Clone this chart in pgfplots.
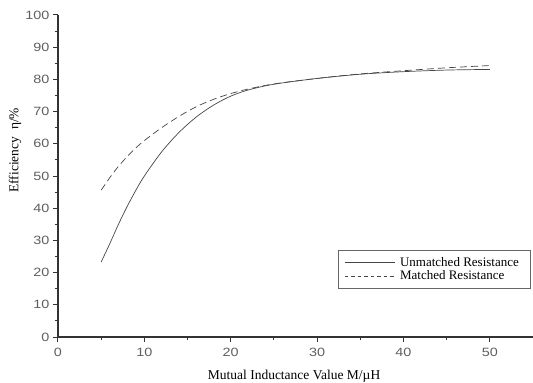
\documentclass[border=0pt]{standalone}
\usepackage{fontspec}
\setmainfont{Liberation Serif}
\newfontfamily\tickfont[FakeStretch=1.2]{Liberation Sans}
\usepackage{pgfplots}
\pgfplotsset{compat=1.18}
\definecolor{tickgray}{RGB}{95,95,95}
\definecolor{curvegray}{RGB}{70,70,70}
\begin{document}
\begin{tikzpicture}
\useasboundingbox (-58pt,-46pt) rectangle (475pt,337pt);
\begin{axis}[
  scale only axis,
  width=475pt, height=322pt,
  xmin=0, xmax=55, ymin=0, ymax=100,
  axis x line=bottom, axis y line=left,
  axis line style={-, line width=1.3pt, color=black!80},
  xtick={0,10,20,30,40,50}, ytick={0,10,...,100},
  minor x tick num=1, minor y tick num=1,
  tick align=outside,
  major tick length=5pt, minor tick length=3pt,
  tick style={line width=1pt, color=black!80},
  /pgf/number format/assume math mode=true,
  tick label style={font=\tickfont\fontsize{12}{14}\selectfont, text=tickgray},
  xticklabel style={yshift=-3pt},
  xlabel={Mutual Inductance Value M/\textmu H},
  ylabel={Efficiency\ \ η/\%},
  xlabel style={at={(axis description cs:0.497,-0.121)}, anchor=center, font=\fontsize{13.5}{15}\selectfont},
  ylabel style={at={(axis description cs:-0.0905,0.58)}, anchor=center, font=\fontsize{13.5}{15}\selectfont},
  legend style={at={(axis description cs:0.994,0.27)}, anchor=north east,
    draw=black!60, line width=0.6pt, font=\fontsize{13}{14}\selectfont,
    row sep=-1pt, inner xsep=6pt, inner ysep=5pt,
    nodes={inner xsep=5pt}},
  legend cell align=left,
  legend image code/.code={\draw[#1] (0pt,0pt) -- (50pt,0pt);},
]
\addlegendimage{curvegray, line width=0.7pt}
\addlegendentry{Unmatched Resistance}
\addlegendimage{curvegray, line width=0.7pt, dash pattern=on 3.5pt off 3pt}
\addlegendentry{Matched Resistance}
\addplot[curvegray, line width=0.7pt, smooth, forget plot] coordinates {
(5,23.3) (6,29) (7,35) (8,40.5) (9,45.5) (10,50) (12,57.5) (14,63.5) (16,68.3) (18,72) (20,74.8) (22,76.7) (25,78.5) (30,80.3) (35,81.6) (40,82.4) (45,82.9) (50,83.1)
};
\addplot[curvegray, line width=0.7pt, smooth, dash pattern=on 7pt off 4pt, forget plot] coordinates {
(5,45.6) (6,49.5) (7,53) (8,56) (9,58.7) (10,61) (12,65) (14,68.5) (16,71.5) (18,73.8) (20,75.6) (22,77) (25,78.6) (30,80.3) (35,81.7) (40,82.7) (45,83.6) (50,84.3)
};
\end{axis}
\end{tikzpicture}
\end{document}
